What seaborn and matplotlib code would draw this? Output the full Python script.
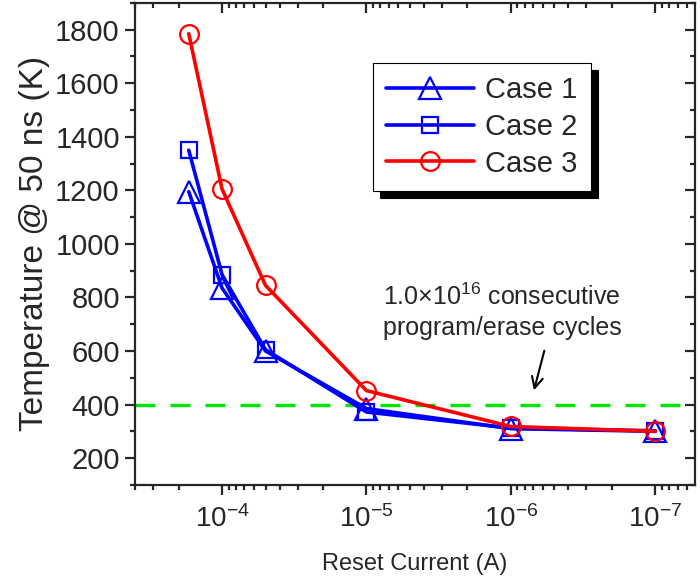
import numpy as np
import pandas as pd
import matplotlib
matplotlib.use('Agg')
import matplotlib.pyplot as plt
import seaborn as sns

sns.set_style('ticks')
plt.rcParams['font.family'] = ['Liberation Sans', 'DejaVu Sans']
plt.rcParams['mathtext.fontset'] = 'custom'
plt.rcParams['mathtext.rm'] = 'Liberation Sans'
plt.rcParams['mathtext.it'] = 'Liberation Sans'

# reset current (A) and peak temperature at 50 ns (K)
reset_current = [1.7e-4, 1e-4, 5e-5, 1e-5, 1e-6, 1e-7]
case1 = [1195, 835, 600, 385, 310, 300]
case2 = [1350, 885, 605, 372, 312, 302]
case3 = [1785, 1205, 845, 452, 318, 300]
limit_temp = 400

df = pd.DataFrame({'current': reset_current * 3,
                   'temp': case1 + case2 + case3,
                   'case': ['Case 1'] * 6 + ['Case 2'] * 6 + ['Case 3'] * 6})

fig = plt.figure(figsize=(7, 5.87), dpi=100)
ax = fig.add_axes([0.193, 0.174, 0.800, 0.821])

styles = {'Case 1': ('#0000ff', '^', 16),
          'Case 2': ('#0000ff', 's', 12),
          'Case 3': ('#ff0000', 'o', 13.5)}
for name, (col, mk, ms) in styles.items():
    sub = df[df['case'] == name]
    sns.lineplot(data=sub, x='current', y='temp', ax=ax, color=col, marker=mk,
                 markersize=ms, markerfacecolor='none', markeredgecolor=col,
                 markeredgewidth=1.6, linewidth=2.6, label=name, sort=False)

ax.axhline(limit_temp, color='#00e600', lw=2.4, ls=(0, (6, 4.5)), zorder=1)

ax.set_xscale('log')
ax.set_xlim(4e-4, 5.3e-8)
ax.set_ylim(100, 1900)
ax.set_yticks(np.arange(200, 1801, 200))
ax.set_yticks(np.arange(100, 1901, 100), minor=True)
ax.set_xticks([1e-4, 1e-5, 1e-6, 1e-7])
ax.set_xticklabels(['$10^{-4}$', '$10^{-5}$', '$10^{-6}$', '$10^{-7}$'])

ax.tick_params(axis='both', which='major', length=7, width=1.6,
               direction='out')
ax.tick_params(axis='x', which='major', labelsize=20, pad=8)
ax.tick_params(axis='y', which='major', labelsize=21, pad=4)
ax.tick_params(axis='both', which='minor', length=3.5, width=1.6, direction='out')
ax.tick_params(axis='both', which='both', top=True, right=True)
for sp in ax.spines.values():
    sp.set_linewidth(1.6)
    sp.set_visible(True)
# mirrored ticks on top/right point into the plot
for t in ax.xaxis.get_major_ticks() + ax.xaxis.get_minor_ticks():
    t.tick2line.set_marker(3)
for t in ax.yaxis.get_major_ticks() + ax.yaxis.get_minor_ticks():
    t.tick2line.set_marker(0)

ax.set_xlabel('Reset Current (A)', fontsize=17, labelpad=14)
ax.set_ylabel('Temperature @ 50 ns (K)', fontsize=24, labelpad=4)

ax.annotate('', xy=(7.0e-7, 443), xytext=(5.8e-7, 611),
            arrowprops=dict(arrowstyle='->', color='k', lw=1.5,
                            mutation_scale=20))
ax.text(7.7e-6, 852, '1.0$\\times$10$^{16}$ consecutive\nprogram/erase cycles',
        fontsize=18, ha='left', va='top', linespacing=1.3)

leg = ax.legend(loc='upper left', bbox_to_anchor=(0.425, 0.8755), fontsize=21,
                frameon=True, fancybox=False, edgecolor='k', framealpha=1,
                handlelength=3.0, handletextpad=0.4, borderpad=0.45,
                labelspacing=0.3, borderaxespad=0,
                shadow={'color': 'k', 'alpha': 1, 'ox': 5, 'oy': -5})
leg.get_frame().set_linewidth(0.8)

fig.savefig('out.png', dpi=100)
